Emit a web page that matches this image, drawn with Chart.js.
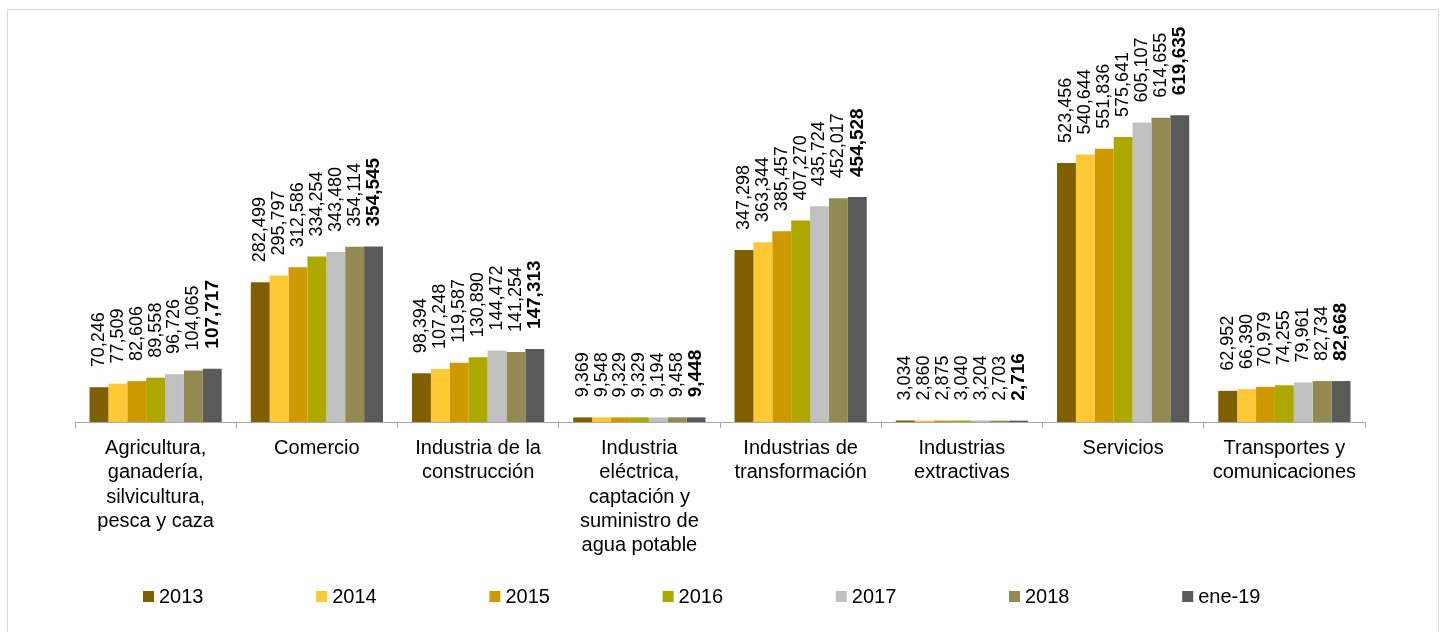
<!DOCTYPE html>
<html>
<head>
<meta charset="utf-8">
<script src="https://cdn.jsdelivr.net/npm/chart.js@4.4.1/dist/chart.umd.min.js"></script>
<style>
  body { margin: 0; background: #fff; }
  canvas { display: block; }
</style>
</head>
<body>
<canvas id="chart" width="1442" height="632"></canvas>
<script>
const categories = [
  ['Agricultura,', 'ganadería,', 'silvicultura,', 'pesca y caza'],
  ['Comercio'],
  ['Industria de la', 'construcción'],
  ['Industria', 'eléctrica,', 'captación y', 'suministro de', 'agua potable'],
  ['Industrias de', 'transformación'],
  ['Industrias', 'extractivas'],
  ['Servicios'],
  ['Transportes y', 'comunicaciones']
];

const seriesNames = ['2013', '2014', '2015', '2016', '2017', '2018', 'ene-19'];
const seriesColors = ['#7f5f00', '#ffc936', '#cf9a00', '#aca800', '#c0c0c0', '#938953', '#5a5a5a'];

const s2013 = [70246, 282499, 98394, 9369, 347298, 3034, 523456, 62952];
const s2014 = [77509, 295797, 107248, 9548, 363344, 2860, 540644, 66390];
const s2015 = [82606, 312586, 119587, 9329, 385457, 2875, 551836, 70979];
const s2016 = [89558, 334254, 130890, 9329, 407270, 3040, 575641, 74255];
const s2017 = [96726, 343480, 144472, 9194, 435724, 3204, 605107, 79961];
const s2018 = [104065, 354114, 141254, 9458, 452017, 2703, 614655, 82734];
const sEne19 = [107717, 354545, 147313, 9448, 454528, 2716, 619635, 82668];

const allSeries = [s2013, s2014, s2015, s2016, s2017, s2018, sEne19];

const FONT = "'Liberation Sans', Arial, sans-serif";
Chart.defaults.font.family = FONT;
Chart.defaults.color = '#000';

// frame around the whole picture
const frame = {
  id: 'frame',
  beforeDraw(chart) {
    const { ctx } = chart;
    ctx.save();
    ctx.fillStyle = '#fff';
    ctx.fillRect(0, 0, chart.width, chart.height);
    ctx.strokeStyle = '#d9d9d9';
    ctx.lineWidth = 1;
    ctx.strokeRect(7.5, 9.5, 1431, 640);
    ctx.restore();
  }
};

// vertical value labels above each bar, last series in bold
const barLabels = {
  id: 'barLabels',
  afterDatasetsDraw(chart) {
    const { ctx } = chart;
    const last = chart.data.datasets.length - 1;
    chart.data.datasets.forEach((ds, i) => {
      const meta = chart.getDatasetMeta(i);
      meta.data.forEach((bar, j) => {
        ctx.save();
        ctx.translate(bar.x, bar.y - 20);
        ctx.rotate(-Math.PI / 2);
        ctx.font = i === last ? `bold 19px ${FONT}` : `18px ${FONT}`;
        ctx.fillStyle = '#000';
        ctx.textAlign = 'left';
        ctx.textBaseline = 'middle';
        ctx.fillText(ds.data[j].toLocaleString('en-US'), 0, 0);
        ctx.restore();
      });
    });
  }
};

// legend row along the bottom, evenly spaced like the original
const bottomLegend = {
  id: 'bottomLegend',
  afterDraw(chart) {
    const { ctx } = chart;
    ctx.save();
    ctx.font = `20px ${FONT}`;
    ctx.textBaseline = 'middle';
    ctx.textAlign = 'left';
    chart.data.datasets.forEach((ds, i) => {
      const x = 143 + 173.2 * i;
      ctx.fillStyle = ds.backgroundColor;
      ctx.fillRect(x, 591, 11, 11);
      ctx.fillStyle = '#000';
      ctx.fillText(ds.label, x + 16, 597);
    });
    ctx.restore();
  }
};

const ctx = document.getElementById('chart').getContext('2d');

const chart = new Chart(ctx, {
  type: 'bar',
  data: {
    labels: categories,
    datasets: allSeries.map((data, i) => ({
      label: seriesNames[i],
      data: data,
      backgroundColor: seriesColors[i],
      borderWidth: 0,
      barPercentage: 1,
      categoryPercentage: 0.82
    }))
  },
  options: {
    responsive: false,
    animation: false,
    layout: {
      padding: { left: 75, right: 77, top: 26, bottom: 0 }
    },
    scales: {
      x: {
        grid: {
          offset: true,
          drawOnChartArea: false,
          drawTicks: true,
          tickLength: 6,
          color: '#a6a6a6'
        },
        border: { color: '#a6a6a6', width: 1 },
        ticks: {
          font: { size: 20, lineHeight: 1.22 },
          color: '#000',
          padding: 8,
          maxRotation: 0,
          autoSkip: false
        },
        afterFit(scale) {
          scale.height = 210;
        }
      },
      y: {
        display: false,
        min: 0,
        max: 800000
      }
    },
    plugins: {
      legend: { display: false },
      tooltip: { enabled: false }
    }
  },
  plugins: [frame, barLabels, bottomLegend]
});
</script>
</body>
</html>
